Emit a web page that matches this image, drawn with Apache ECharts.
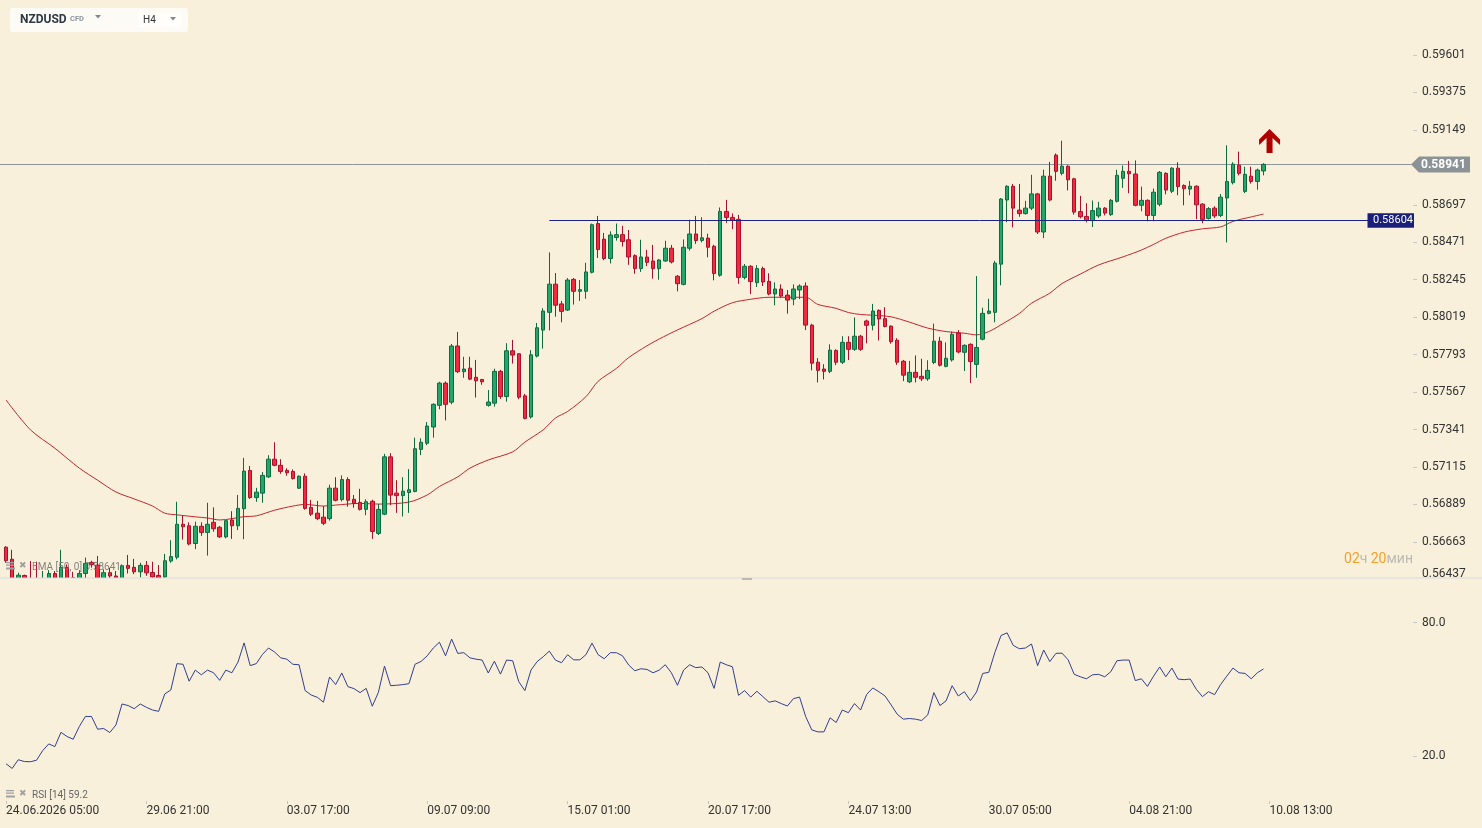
<!DOCTYPE html>
<html><head><meta charset="utf-8">
<script src="https://cdn.jsdelivr.net/npm/echarts@6/dist/echarts.min.js"></script>
<style>html,body{margin:0;padding:0;background:#f8f0da;}#c{width:1482px;height:828px;}</style>
</head><body><div id="c"></div><script>
// ---- data ----
const dateLabels = ['24.06.2026 05:00','29.06 21:00','03.07 17:00','09.07 09:00','15.07 01:00','20.07 17:00','24.07 13:00','30.07 05:00','04.08 21:00','10.08 13:00'];
const barsPerLabel = 23;
const slotCount = 231;

const opens = [
0.56631,0.56558,0.56432,0.56460,0.56437,0.56432,0.56427,0.56437,0.56472,0.56437,
0.56509,0.56447,0.56432,0.56472,0.56539,0.56523,0.56437,0.56477,0.56457,0.56437,
0.56521,0.56509,0.56482,0.56521,0.56478,0.56460,0.56451,0.56547,0.56570,0.56769,
0.56760,0.56653,0.56757,0.56720,0.56781,0.56751,0.56693,0.56795,0.56760,0.56863,
0.57094,0.56930,0.56957,0.57055,0.57162,0.57125,0.57094,0.57088,0.56987,0.57059,
0.56871,0.56836,0.56812,0.56803,0.56987,0.56918,0.57039,0.56920,0.56901,0.56859,
0.56908,0.56714,0.56830,0.57176,0.56957,0.56942,0.56961,0.56967,0.57221,0.57258,
0.57356,0.57487,0.57621,0.57506,0.57845,0.57690,0.57711,0.57656,0.57643,0.57487,
0.57500,0.57692,0.57540,0.57816,0.57798,0.57544,0.57417,0.57784,0.57941,0.58048,
0.58218,0.58099,0.58062,0.58247,0.58175,0.58175,0.58290,0.58584,0.58490,0.58373,
0.58500,0.58517,0.58486,0.58390,0.58312,0.58382,0.58358,0.58312,0.58358,0.58435,
0.58266,0.58217,0.58435,0.58521,0.58482,0.58496,0.58447,0.58272,0.58657,0.58621,
0.58609,0.58259,0.58326,0.58227,0.58312,0.58235,0.58159,0.58189,0.58152,0.58128,
0.58183,0.58207,0.57971,0.57747,0.57706,0.57692,0.57818,0.57747,0.57867,0.57825,
0.57904,0.57996,0.57970,0.58060,0.58010,0.57965,0.57880,0.57753,0.57629,0.57686,
0.57662,0.57647,0.57745,0.57874,0.57722,0.57761,0.57923,0.57807,0.57855,0.57734,
0.57886,0.58042,0.58048,0.58339,0.58726,0.58809,0.58665,0.58644,0.58677,0.58763,
0.58533,0.58870,0.58997,0.58887,0.58930,0.58854,0.58656,0.58627,0.58602,0.58630,
0.58677,0.58638,0.58718,0.58857,0.58899,0.58883,0.58694,0.58724,0.58633,0.58700,
0.58887,0.58779,0.58918,0.58814,0.58792,0.58809,0.58701,0.58615,0.58677,0.58633,
0.58738,0.58831,0.58936,0.58778,0.58870,0.58838,0.58901];

const closes = [
0.56549,0.56427,0.56462,0.56432,0.56422,0.56417,0.56442,0.56472,0.56437,0.56509,
0.56437,0.56427,0.56472,0.56533,0.56525,0.56437,0.56477,0.56457,0.56447,0.56519,
0.56503,0.56482,0.56521,0.56476,0.56451,0.56445,0.56549,0.56574,0.56769,0.56754,
0.56650,0.56757,0.56720,0.56769,0.56742,0.56693,0.56791,0.56760,0.56865,0.57090,
0.56930,0.56963,0.57064,0.57162,0.57125,0.57088,0.57080,0.57045,0.57059,0.56865,
0.56830,0.56803,0.56775,0.56987,0.56914,0.57039,0.56914,0.56895,0.56859,0.56905,
0.56726,0.56859,0.57176,0.56945,0.56942,0.56969,0.56977,0.57225,0.57264,0.57362,
0.57493,0.57621,0.57493,0.57845,0.57690,0.57706,0.57645,0.57635,0.57629,0.57507,
0.57692,0.57540,0.57816,0.57790,0.57536,0.57408,0.57792,0.57955,0.58056,0.58218,
0.58091,0.58054,0.58243,0.58175,0.58185,0.58292,0.58577,0.58427,0.58373,0.58515,
0.58517,0.58476,0.58382,0.58312,0.58382,0.58350,0.58312,0.58364,0.58435,0.58352,
0.58221,0.58441,0.58521,0.58482,0.58498,0.58441,0.58282,0.58657,0.58621,0.58604,
0.58259,0.58326,0.58234,0.58312,0.58231,0.58159,0.58189,0.58146,0.58122,0.58189,
0.58207,0.57971,0.57741,0.57698,0.57692,0.57820,0.57747,0.57867,0.57825,0.57904,
0.57825,0.57970,0.58056,0.58008,0.57963,0.57871,0.57747,0.57669,0.57686,0.57656,
0.57647,0.57698,0.57874,0.57729,0.57771,0.57916,0.57809,0.57849,0.57751,0.57836,
0.58042,0.58056,0.58345,0.58732,0.58809,0.58677,0.58644,0.58677,0.58763,0.58533,
0.58870,0.58726,0.58899,0.58930,0.58848,0.58653,0.58625,0.58602,0.58662,0.58677,
0.58647,0.58724,0.58875,0.58899,0.58885,0.58694,0.58724,0.58633,0.58773,0.58893,
0.58786,0.58918,0.58807,0.58794,0.58809,0.58697,0.58609,0.58674,0.58630,0.58743,
0.58838,0.58942,0.58887,0.58881,0.58838,0.58907,0.58941];

const lows = [
0.56537,0.56407,0.56417,0.56417,0.56407,0.56397,0.56407,0.56417,0.56417,0.56422,
0.56417,0.56407,0.56417,0.56437,0.56507,0.56417,0.56417,0.56437,0.56427,0.56417,
0.56472,0.56468,0.56448,0.56458,0.56437,0.56432,0.56437,0.56537,0.56557,0.56677,
0.56642,0.56619,0.56699,0.56580,0.56724,0.56687,0.56684,0.56681,0.56734,0.56679,
0.56922,0.56905,0.56899,0.57049,0.57119,0.57074,0.57062,0.57039,0.56982,0.56857,
0.56819,0.56794,0.56764,0.56791,0.56907,0.56907,0.56875,0.56869,0.56852,0.56824,
0.56681,0.56704,0.56824,0.56885,0.56838,0.56816,0.56838,0.56962,0.57186,0.57247,
0.57292,0.57463,0.57396,0.57493,0.57681,0.57653,0.57639,0.57534,0.57611,0.57479,
0.57479,0.57526,0.57509,0.57739,0.57524,0.57402,0.57407,0.57776,0.57829,0.57939,
0.58022,0.57988,0.58056,0.58095,0.58117,0.58130,0.58283,0.58376,0.58363,0.58343,
0.58481,0.58445,0.58335,0.58281,0.58292,0.58327,0.58251,0.58245,0.58353,0.58343,
0.58175,0.58211,0.58421,0.58461,0.58470,0.58380,0.58241,0.58263,0.58588,0.58550,
0.58220,0.58247,0.58158,0.58201,0.58207,0.58151,0.58091,0.58136,0.58040,0.58091,
0.58128,0.57941,0.57698,0.57625,0.57643,0.57681,0.57729,0.57736,0.57760,0.57816,
0.57816,0.57861,0.57939,0.57878,0.57957,0.57859,0.57731,0.57633,0.57621,0.57625,
0.57633,0.57635,0.57736,0.57721,0.57716,0.57751,0.57801,0.57694,0.57621,0.57653,
0.57879,0.58036,0.57988,0.58211,0.58592,0.58561,0.58625,0.58638,0.58665,0.58521,
0.58496,0.58718,0.58842,0.58875,0.58784,0.58638,0.58615,0.58591,0.58563,0.58618,
0.58633,0.58630,0.58711,0.58799,0.58767,0.58688,0.58658,0.58598,0.58598,0.58688,
0.58760,0.58768,0.58755,0.58694,0.58755,0.58610,0.58586,0.58608,0.58618,0.58623,
0.58470,0.58820,0.58875,0.58768,0.58825,0.58788,0.58875];

const highs = [
0.56637,0.56615,0.56477,0.56465,0.56547,0.56543,0.56487,0.56492,0.56487,0.56615,
0.56527,0.56482,0.56492,0.56568,0.56549,0.56578,0.56497,0.56507,0.56487,0.56527,
0.56584,0.56560,0.56537,0.56547,0.56543,0.56523,0.56590,0.56673,0.56905,0.56820,
0.56781,0.56785,0.56781,0.56899,0.56871,0.56759,0.56795,0.56848,0.56946,0.57170,
0.57121,0.56989,0.57084,0.57186,0.57264,0.57162,0.57107,0.57100,0.57064,0.57076,
0.56916,0.56910,0.56879,0.57008,0.57053,0.57064,0.57053,0.56946,0.56983,0.56920,
0.56917,0.56891,0.57194,0.57198,0.57035,0.57053,0.57102,0.57292,0.57288,0.57386,
0.57499,0.57629,0.57631,0.57857,0.57930,0.57780,0.57780,0.57761,0.57646,0.57579,
0.57708,0.57701,0.57862,0.57882,0.57801,0.57556,0.57820,0.57984,0.58073,0.58410,
0.58285,0.58117,0.58255,0.58255,0.58243,0.58347,0.58584,0.58630,0.58527,0.58537,
0.58584,0.58570,0.58545,0.58398,0.58486,0.58425,0.58455,0.58370,0.58480,0.58455,
0.58273,0.58488,0.58607,0.58630,0.58622,0.58523,0.58456,0.58681,0.58727,0.58645,
0.58636,0.58340,0.58333,0.58333,0.58324,0.58284,0.58229,0.58217,0.58183,0.58217,
0.58217,0.58229,0.57979,0.57772,0.57735,0.57855,0.57825,0.57904,0.57904,0.58017,
0.57912,0.58004,0.58099,0.58066,0.58079,0.57969,0.57892,0.57761,0.57755,0.57788,
0.57768,0.57759,0.57980,0.57900,0.57867,0.57932,0.57941,0.57855,0.57861,0.58267,
0.58076,0.58130,0.58359,0.58738,0.58815,0.58823,0.58823,0.58721,0.58878,0.58769,
0.58909,0.58956,0.59007,0.59084,0.58936,0.58860,0.58751,0.58707,0.58723,0.58715,
0.58683,0.58732,0.58909,0.58934,0.58962,0.58965,0.58807,0.58730,0.58795,0.58901,
0.58893,0.58924,0.58954,0.58820,0.58841,0.58815,0.58707,0.58683,0.58688,0.58762,
0.59056,0.58954,0.59018,0.58927,0.58927,0.58915,0.58948];

const emaIdx = [0,4,8,12,15,18,21,24,26,28,31,33,35,39,41,44,47,49,52,54,58,61,66,69,71,74,76,79,83,85,88,90,92,95,97,100,102,105,107,110,114,116,119,122,125,127,131,133,136,138,140,142,145,148,151,154,157,159,161,163,166,168,171,173,176,179,183,186,188,190,193,196,199,201,204,206];
const emaVal = [0.57519,0.57339,0.57228,0.57108,0.57035,0.56964,0.56922,0.56879,0.56836,0.56826,0.56814,0.56807,0.56795,0.56815,0.56820,0.56854,0.56879,0.56889,0.56879,0.56885,0.56895,0.56891,0.56903,0.56946,0.56997,0.57055,0.57108,0.57157,0.57206,0.57265,0.57339,0.57410,0.57450,0.57539,0.57632,0.57710,0.57775,0.57846,0.57887,0.57942,0.58010,0.58055,0.58106,0.58127,0.58139,0.58139,0.58139,0.58096,0.58072,0.58047,0.58035,0.58031,0.58021,0.57989,0.57953,0.57932,0.57922,0.57912,0.57932,0.57973,0.58041,0.58103,0.58164,0.58222,0.58279,0.58334,0.58383,0.58424,0.58458,0.58495,0.58532,0.58552,0.58564,0.58597,0.58624,0.58641];

const rsiVals = [
16.7,14.6,18.5,17.7,17.6,18.3,22.6,25.6,24.4,30.8,
28.9,27.7,33.4,37.9,37.9,32.2,32.5,30.7,34.1,43.5,
42.8,41.4,43.5,42.0,40.8,40.2,48.0,49.8,61.6,61.3,
53.7,58.7,56.6,58.7,57.5,54.1,58.7,57.5,62.3,70.9,
60.7,61.6,65.7,68.6,66.8,64.2,63.6,61.3,61.1,49.5,
47.5,46.5,44.3,55.6,52.2,57.4,51.3,50.4,48.6,50.5,
42.5,48.7,60.5,51.7,51.9,52.2,52.6,61.3,62.6,65.1,
68.6,71.2,65.1,72.6,66.2,66.5,64.2,63.6,63.2,57.4,
62.7,56.9,63.2,62.9,53.5,49.5,58.7,62.5,64.7,67.2,
63.2,62.0,65.6,63.3,63.3,65.6,70.8,65.6,63.8,66.5,
66.5,65.1,61.0,58.4,59.3,59.0,57.5,58.7,61.1,57.5,
51.9,58.7,61.1,59.8,60.1,57.5,50.5,62.3,61.1,60.2,
47.4,49.5,46.6,49.2,46.8,44.3,44.9,43.7,42.6,45.9,
46.6,37.9,31.9,31.0,31.0,37.3,35.2,40.8,39.6,43.7,
40.8,47.8,50.7,49.0,47.1,43.1,38.9,36.7,37.0,36.7,
36.1,38.6,48.6,42.8,44.9,51.7,47.1,49.0,45.0,48.9,
57.2,57.7,66.6,74.2,75.4,69.8,68.3,68.6,70.4,60.7,
67.7,62.5,66.2,66.3,63.3,56.8,55.7,54.8,56.6,56.8,
55.7,58.0,62.9,63.2,63.2,54.0,54.8,51.4,56.0,60.1,
55.7,59.6,54.7,54.4,54.7,50.1,46.8,49.0,47.7,52.3,
56.0,59.6,57.5,57.2,54.8,57.5,59.2];

const priceTicks = [0.56437,0.56663,0.56889,0.57115,0.57341,0.57567,0.57793,0.58019,0.58245,0.58471,0.58697,0.59149,0.59375,0.59601];
const rsiTicks = [20, 80];
const lastPrice = 0.58941;
const levelPrice = 0.58604;
const levelStart = 89;
const arrowAt = [207, 0.59082];
const symbolName = 'NZDUSD', symbolType = 'CFD', timeframe = 'H4';
const emaLabel = 'EMA [50, 0] 0.58641';
const rsiLabel = 'RSI [14] 59.2';

// ---- build ----
const FONT = 'Roboto, "Noto Sans", sans-serif';
const BG = '#f8f0da';
const cats = [];
for (let i = 0; i < slotCount; i++) cats.push('s' + i);
const isLabelSlot = i => i % barsPerLabel === 0 && (i / barsPerLabel) < dateLabels.length;
const candleData = opens.map((o, i) => [o, closes[i], lows[i], highs[i]]);
const emaData = emaIdx.map((x, k) => [x, emaVal[k]]);

const chart = echarts.init(document.getElementById('c'), null, {renderer: 'canvas'});
const option = {
  animation: false,
  backgroundColor: BG,
  grid: [
    {left: 3, top: 30, width: 1410, height: 549.3},
    {left: 3, top: 578, width: 1410, height: 223}
  ],
  xAxis: [
    {type: 'category', gridIndex: 0, data: cats, boundaryGap: true,
     axisLine: {show: false}, axisTick: {show: false}, axisLabel: {show: false}, splitLine: {show: false}},
    {type: 'category', gridIndex: 1, data: cats, boundaryGap: true,
     axisLine: {show: false},
     axisTick: {show: true, alignWithLabel: true, interval: (i) => isLabelSlot(i), length: 3, lineStyle: {color: '#c4c4c4'}},
     axisLabel: {show: true, interval: (i) => isLabelSlot(i), align: 'left', margin: 4,
       formatter: (v, i) => isLabelSlot(i) ? dateLabels[i / barsPerLabel] : '',
       color: '#333', fontSize: 12, fontFamily: FONT},
     splitLine: {show: false}}
  ],
  yAxis: [
    {type: 'value', gridIndex: 0, position: 'right', min: 0.56437, max: 0.59752,
     axisLine: {show: false}, splitLine: {show: false},
     axisTick: {show: true, customValues: priceTicks.slice(1), length: 4, lineStyle: {color: '#c8c8c8'}},
     axisLabel: {customValues: priceTicks, margin: 9, color: '#333', fontSize: 12, fontFamily: FONT,
       formatter: v => Math.abs(v - priceTicks[0]) < 1e-7 ? '{b|' + v.toFixed(5) + '}' : v.toFixed(5),
       rich: {b: {color: '#333', fontSize: 12, fontFamily: FONT, padding: [0, 0, 11, 0]}}}},
    {type: 'value', gridIndex: 1, position: 'right', min: 0, max: 100,
     axisLine: {show: false}, splitLine: {show: false},
     axisTick: {show: true, customValues: rsiTicks, length: 4, lineStyle: {color: '#c8c8c8'}},
     axisLabel: {customValues: rsiTicks, formatter: v => v.toFixed(1), margin: 9, color: '#333', fontSize: 12, fontFamily: FONT}}
  ],
  series: [
    {type: 'line', name: 'EMA', xAxisIndex: 0, yAxisIndex: 0, data: emaData, showSymbol: false, smooth: 0.3,
     lineStyle: {color: '#c3262e', width: 1}, z: 2, silent: true,
     markLine: {silent: true, symbol: ['none', 'none'], animation: false, label: {show: false},
       data: [
         [{coord: [levelStart, levelPrice], lineStyle: {color: '#1c237e', width: 1, type: 'solid'}},
          {coord: [slotCount - 1, levelPrice], lineStyle: {color: '#1c237e', width: 1, type: 'solid'}}]
       ]}},
    {type: 'candlestick', xAxisIndex: 0, yAxisIndex: 0, data: candleData, barWidth: 4, z: 3,
     itemStyle: {color: '#22a66c', color0: '#f2293f', borderColor: '#0e6b3e', borderColor0: '#a8112a', borderWidth: 1},
     markPoint: {silent: true, animation: false, label: {show: false},
       data: [{coord: arrowAt, symbol: 'path://M10.5,0 L21,10.5 L21,16 L13.5,9 L13.5,24 L7.5,24 L7.5,9 L0,16 L0,10.5 Z',
               symbolSize: [21, 24], itemStyle: {color: '#b00000'}}]}
    },
    {type: 'line', name: 'RSI', xAxisIndex: 1, yAxisIndex: 1, data: rsiVals, showSymbol: false,
     lineStyle: {color: '#323f8f', width: 1}, silent: true}
  ]
};
chart.setOption(option);

const yLast = chart.convertToPixel({yAxisIndex: 0}, lastPrice);
const yLevel = chart.convertToPixel({yAxisIndex: 0}, levelPrice);
const T = (text, x, y, font, fill, align) => ({type: 'text', silent: true, z: 100,
  style: {text, x, y, font, fill, textAlign: align || 'left', textVerticalAlign: 'middle', align: align || 'left', verticalAlign: 'middle'}});
const R = (x, y, w, h, fill, r) => ({type: 'rect', silent: true, z: 99, shape: {x, y, width: w, height: h, r: r || 0}, style: {fill}});
const P = (pts, fill) => ({type: 'polygon', silent: true, z: 100, shape: {points: pts}, style: {fill}});
const icon = (y) => [R(6, y - 4, 8, 1.3, '#a0a0a0'), R(6, y - 1.5, 8, 1.3, '#a0a0a0'), R(6, y + 1.5, 9, 2, '#a0a0a0'),
  T('\u2716', 19, y, '9px "DejaVu Sans"', '#a0a0a0')];

const graphics = [
  // current price line
  {type: 'line', silent: true, z: 1, shape: {x1: 0, y1: Math.round(yLast) + 0.5, x2: 1411, y2: Math.round(yLast) + 0.5},
   style: {stroke: '#8d969a', lineWidth: 1}},
  R(0, 578, 1413, 14, BG),            // pane clip below price area
  R(0, 577.5, 1482, 1, '#d7d9df'),
  R(742, 578, 10, 2, '#b9b9b9'),
  // header
  R(10, 8, 178, 24, '#fdfbf5', 3),
  T(symbolName, 20, 19.5, 'bold 12px ' + FONT, '#2d3a44'),
  T(symbolType, 70, 19.5, 'bold 7.5px ' + FONT, '#8e959b'),
  P([[95, 15], [101, 15], [98, 18.5]], '#80878d'),
  R(138, 12.5, 44, 15, '#fffefa', 2),
  T(timeframe, 143, 20.5, '10px ' + FONT, '#333'),
  P([[170, 17], [176, 17], [173, 20.5]], '#80878d'),
  // last price tag
  P([[1411, yLast], [1419, yLast - 8], [1470, yLast - 8], [1470, yLast + 8], [1419, yLast + 8]], '#8b9397'),
  T(lastPrice.toFixed(5), 1421, yLast + 0.5, 'bold 12px ' + FONT, '#ffffff'),
  // level tag
  R(1367.5, yLevel - 7, 46.5, 14.5, '#1a1f7a'),
  T(levelPrice.toFixed(5), 1373, yLevel + 0.5, '11px ' + FONT, '#ffffff'),
  // countdown
  {type: 'text', silent: true, z: 100, style: {text: '{o|02}{g|ч} {o|20}{g|мин}', x: 1413, y: 559.5,
    textAlign: 'right', textVerticalAlign: 'middle', align: 'right', verticalAlign: 'middle',
    rich: {o: {fill: '#f5a02a', font: '14px ' + FONT}, g: {fill: '#bdbab2', font: '14px ' + FONT}}}},
  // indicator labels
  ...icon(566),
  T(emaLabel, 32, 567, '10px ' + FONT, 'rgba(110,110,110,0.85)'),
  ...icon(794),
  T(rsiLabel, 32, 795, '10px ' + FONT, '#666')
];
chart.setOption({graphic: graphics});
</script></body></html>
